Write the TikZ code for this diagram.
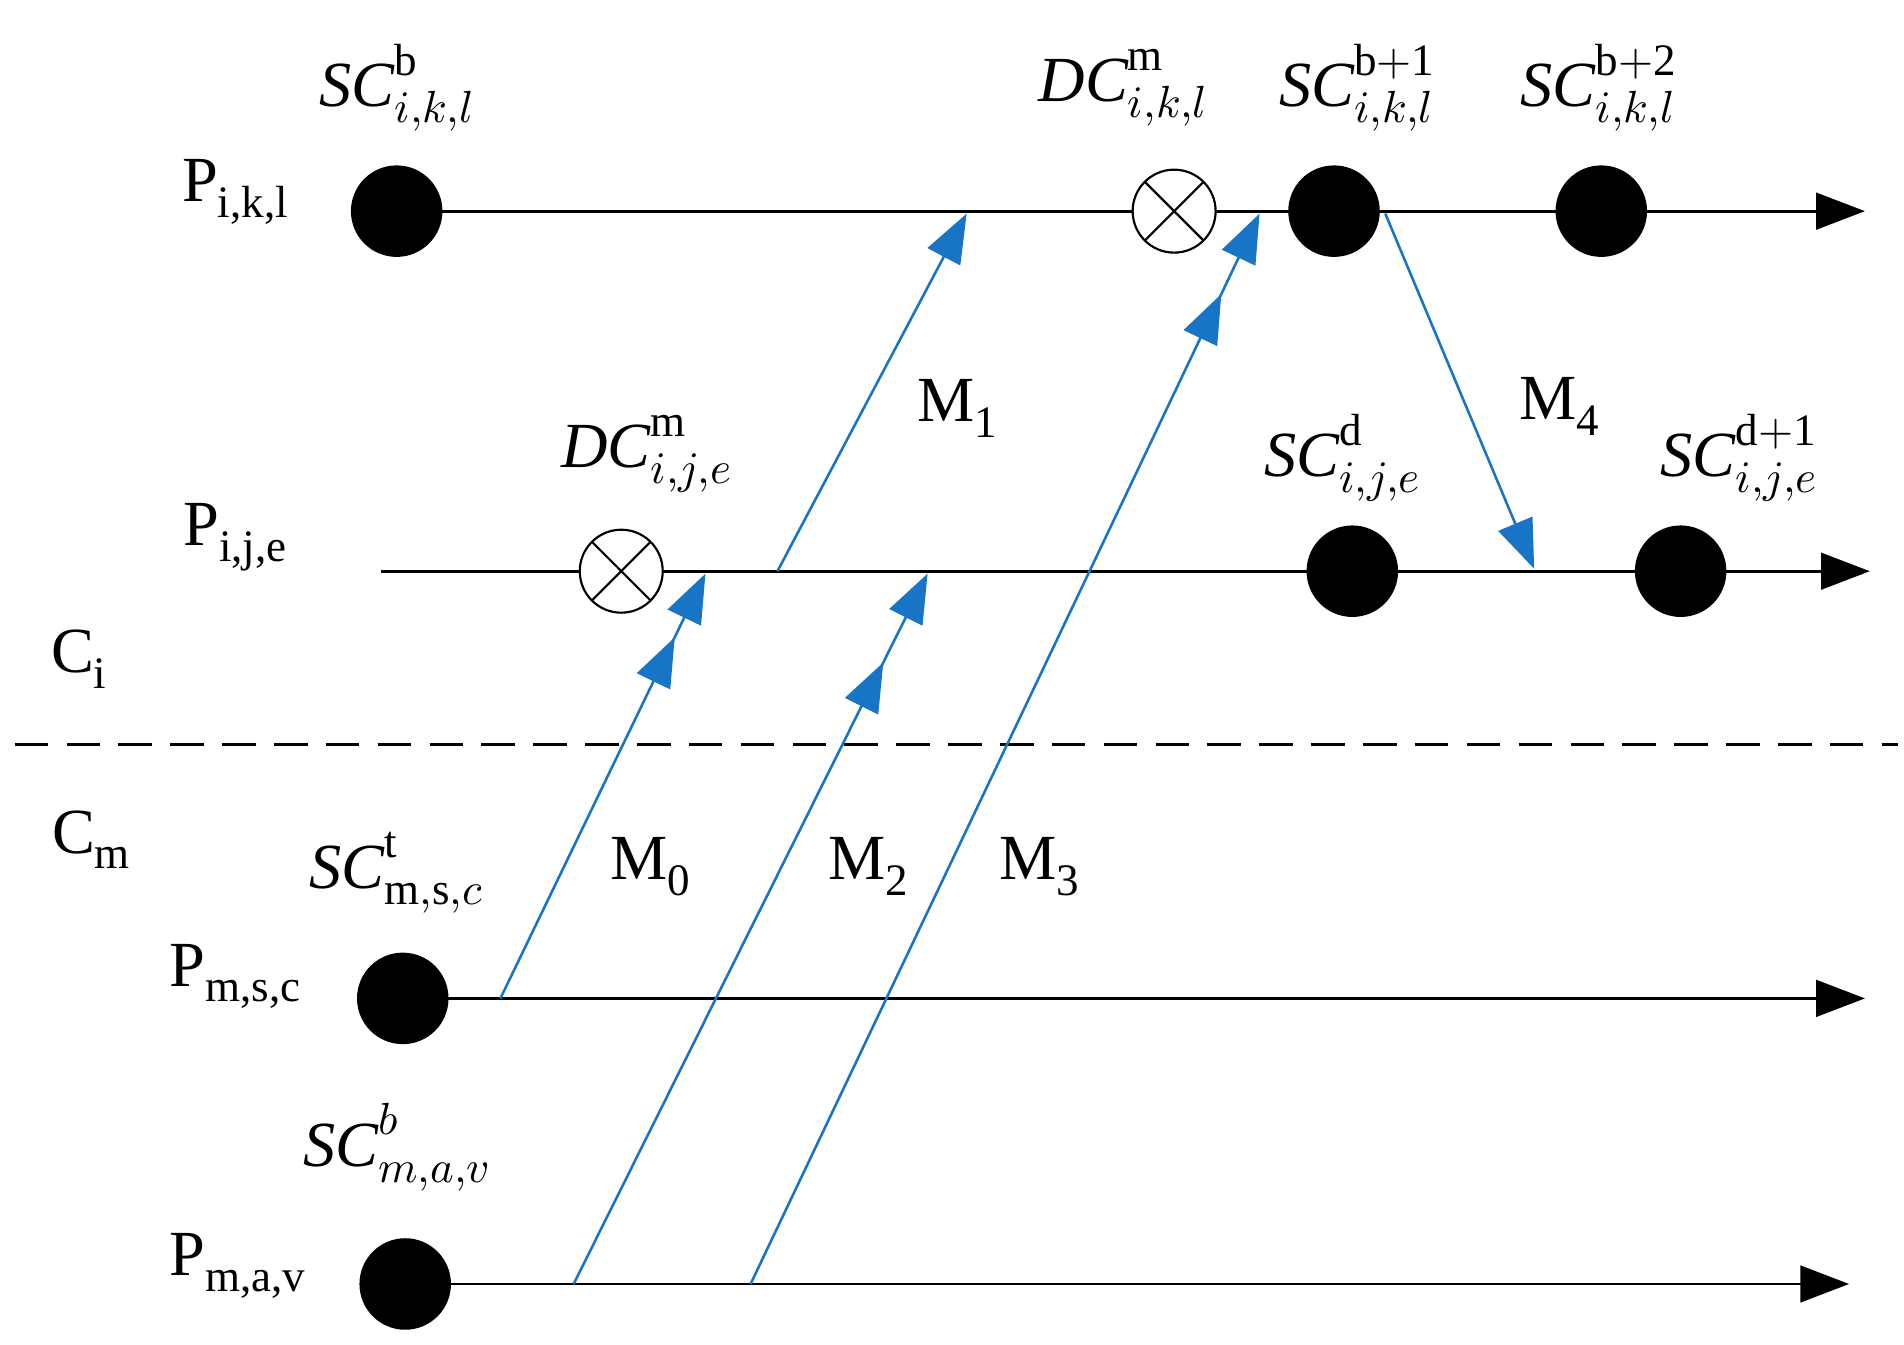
\documentclass[tikz,border=0pt]{standalone}
\usepackage{fontspec}
\setmainfont{Liberation Serif}
\usepackage{unicode-math}
\setmathfont{Latin Modern Math}
\usetikzlibrary{arrows.meta,decorations.markings}
\definecolor{mblue}{RGB}{24,116,196}
\tikzset{
 blk/.style={line width=1.3pt},
 tip/.style={-{Triangle[length=0.8cm,width=0.6cm]}},
 dot/.style={circle,fill=black,minimum width=1.45cm,minimum height=1.5cm,inner sep=0},
 ot/.style={circle,draw,line width=1pt,minimum size=1.36cm,inner sep=0,path picture={\draw[line width=1pt] (path picture bounding box.north west)--(path picture bounding box.south east) (path picture bounding box.north east)--(path picture bounding box.south west);}},
 msg/.style={draw=mblue,line width=1.2pt,-{Triangle[length=0.8cm,width=0.6cm,fill=mblue]}},
 mid/.style={postaction={decorate,decoration={markings,mark=at position #1 with {\arrow{Triangle[length=0.8cm,width=0.6cm,fill=mblue,color=mblue]}}}}},
 lab/.style={font=\fontsize{30}{36}\selectfont,inner sep=0},
}
\begin{document}
\begin{tikzpicture}[x=0.02cm,y=-0.02cm]
\useasboundingbox (0,0) rectangle (1560,1102);
% axes
\coordinate (a1s) at (325,173); \coordinate (a1e) at (1528,173);
\coordinate (a2s) at (312,468); \coordinate (a2e) at (1532,468);
\coordinate (a3s) at (330,818); \coordinate (a3e) at (1528,818);
\coordinate (a4s) at (332,1052); \coordinate (a4e) at (1515,1052);
\draw[blk,tip] (a1s)--(a1e);
\draw[blk,tip] (a2s)--(a2e);
\draw[blk,tip] (a3s)--(a3e);
\draw[blk,tip] (a4s)--(a4e);
\coordinate (d1) at (12,610); \coordinate (d2) at (1555,610);
\draw[line width=1.2pt,dash pattern=on 0.55cm off 0.3cm] (d1)--(d2);
% nodes
\node[dot] (t1) at (325,173) {};
\node[ot,fill=white] (t2) at (962,173) {};
\node[dot] (t3) at (1093,173) {};
\node[dot] (t4) at (1312,173) {};
\node[ot,fill=white] (m1) at (509,468) {};
\node[dot] (m2) at (1108,468) {};
\node[dot] (m3) at (1377,468) {};
\node[dot] (s1) at (330,818) {};
\node[dot] (v1) at (332,1052) {};
% message endpoints
\coordinate (M0s) at (410,818); \coordinate (M0e) at (578,470);
\coordinate (M1s) at (637,468); \coordinate (M1e) at (792,175);
\coordinate (M2s) at (470,1052); \coordinate (M2e) at (760,470);
\coordinate (M3s) at (615,1052); \coordinate (M3e) at (1032,175);
\coordinate (M4s) at (1135,175); \coordinate (M4e) at (1257,466);
\draw[msg,mid=0.85] (M0s)--(M0e);
\draw[msg] (M1s)--(M1e);
\draw[msg,mid=0.875] (M2s)--(M2e);
\draw[msg,mid=0.925] (M3s)--(M3e);
\draw[msg] (M4s)--(M4e);
% labels
\node[lab] (L1) at (193,157) {P\textsubscript{i,k,l}};
\node[lab] (L2) at (193,440) {P\textsubscript{i,j,e}};
\node[lab] (L3) at (65,540) {C\textsubscript{i}};
\node[lab] (L4) at (75,688) {C\textsubscript{m}};
\node[lab] (L5) at (193,800) {P\textsubscript{m,s,c}};
\node[lab] (L6) at (195,1037) {P\textsubscript{m,a,v}};
\node[lab] (S1) at (325,72) {$\mathit{SC}^{\mathrm{b}}_{i,k,l}$};
\node[lab] (S2) at (920,72) {$\mathit{DC}^{\mathrm{m}}_{i,k,l}$};
\node[lab] (S3) at (1112,72) {$\mathit{SC}^{\mathrm{b+1}}_{i,k,l}$};
\node[lab] (S4) at (1310,72) {$\mathit{SC}^{\mathrm{b+2}}_{i,k,l}$};
\node[lab] (S5) at (530,372) {$\mathit{DC}^{\mathrm{m}}_{i,j,e}$};
\node[lab] (S6) at (1100,375) {$\mathit{SC}^{\mathrm{d}}_{i,j,e}$};
\node[lab] (S7) at (1425,375) {$\mathit{SC}^{\mathrm{d+1}}_{i,j,e}$};
\node[lab] (S8) at (325,715) {$\mathit{SC}^{\mathrm{t}}_{\mathrm{m,s,}c}$};
\node[lab] (S9) at (325,940) {$\mathit{SC}^{b}_{m,a,v}$};
\node[lab] (N1) at (785,335) {M\textsubscript{1}};
\node[lab] (N4) at (1278,333) {M\textsubscript{4}};
\node[lab] (N0) at (533,710) {M\textsubscript{0}};
\node[lab] (N2) at (712,710) {M\textsubscript{2}};
\node[lab] (N3) at (852,710) {M\textsubscript{3}};
\end{tikzpicture}
\end{document}
